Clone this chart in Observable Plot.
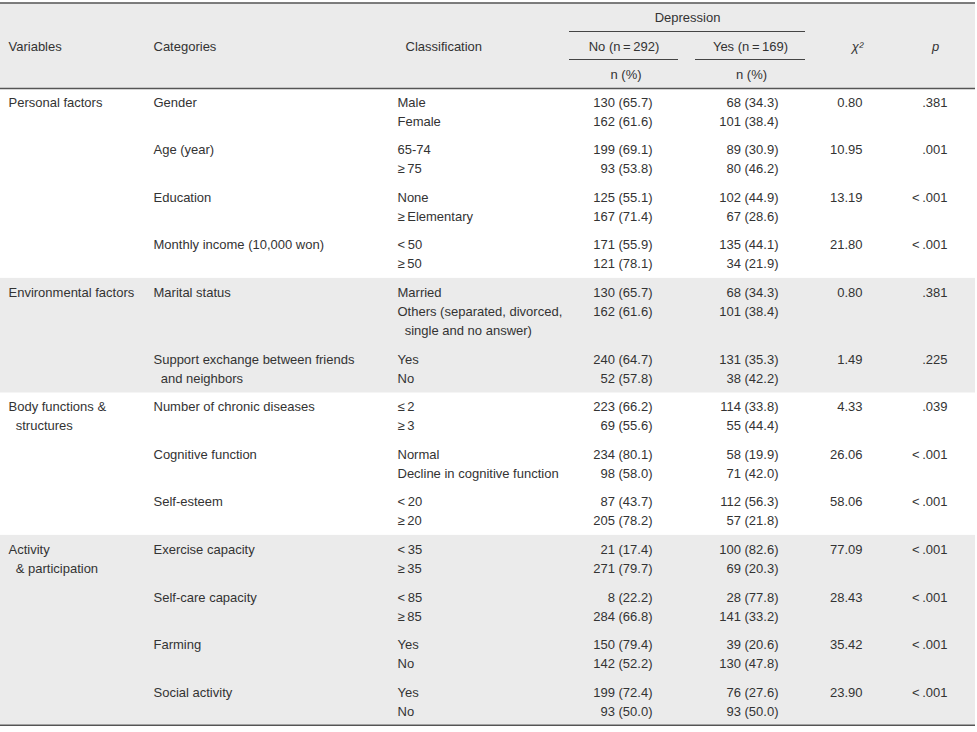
<!DOCTYPE html>
<html>
<head>
<meta charset="utf-8">
<script src="https://cdn.jsdelivr.net/npm/d3@7"></script>
<script src="https://cdn.jsdelivr.net/npm/@observablehq/plot@0.6"></script>
<style>
  html, body { margin: 0; padding: 0; background: #fff; }
  #chart svg { display: block; }
</style>
</head>
<body>
<div id="chart"></div>
<script>
// ---------------- DATA ----------------
const headerLabels = ["Variables", "Categories", "Classification"];
const depressionLabel = "Depression";
const groupLabels = ["No (n\u2009=\u2009292)", "Yes (n\u2009=\u2009169)"];
const unitLabel = "n (%)";
const statLabels = ["\u03c7\u00b2", "p"];

const variables = [
  ["Personal factors"],
  ["Environmental factors"],
  ["Body functions &", "\u00a0\u00a0structures"],
  ["Activity", "\u00a0\u00a0& participation"]
];

const categories = [
  ["Gender"],
  ["Age (year)"],
  ["Education"],
  ["Monthly income (10,000 won)"],
  ["Marital status"],
  ["Support exchange between friends", "\u00a0\u00a0and neighbors"],
  ["Number of chronic diseases"],
  ["Cognitive function"],
  ["Self-esteem"],
  ["Exercise capacity"],
  ["Self-care capacity"],
  ["Farming"],
  ["Social activity"]
];
const categoryVariable = [0, 0, 0, 0, 1, 1, 2, 2, 2, 3, 3, 3, 3];

const classifications = [
  ["Male", "Female"],
  ["65-74", "\u2265\u200975"],
  ["None", "\u2265\u2009Elementary"],
  ["<\u200950", "\u2265\u200950"],
  ["Married", "Others (separated, divorced,", "\u00a0\u00a0single and no answer)"],
  ["Yes", "No"],
  ["\u2264\u20092", "\u2265\u20093"],
  ["Normal", "Decline in cognitive function"],
  ["<\u200920", "\u2265\u200920"],
  ["<\u200935", "\u2265\u200935"],
  ["<\u200985", "\u2265\u200985"],
  ["Yes", "No"],
  ["Yes", "No"]
];

const noN   = [[130,162],[199,93],[125,167],[171,121],[130,162],[240,52],[223,69],[234,98],[87,205],[21,271],[8,284],[150,142],[199,93]];
const noPct = [[65.7,61.6],[69.1,53.8],[55.1,71.4],[55.9,78.1],[65.7,61.6],[64.7,57.8],[66.2,55.6],[80.1,58.0],[43.7,78.2],[17.4,79.7],[22.2,66.8],[79.4,52.2],[72.4,50.0]];
const yesN   = [[68,101],[89,80],[102,67],[135,34],[68,101],[131,38],[114,55],[58,71],[112,57],[100,69],[28,141],[39,130],[76,93]];
const yesPct = [[34.3,38.4],[30.9,46.2],[44.9,28.6],[44.1,21.9],[34.3,38.4],[35.3,42.2],[33.8,44.4],[19.9,42.0],[56.3,21.8],[82.6,20.3],[77.8,33.2],[20.6,47.8],[27.6,50.0]];
const chi2 = [0.80, 10.95, 13.19, 21.80, 0.80, 1.49, 4.33, 26.06, 58.06, 77.09, 28.43, 35.42, 23.90];
const pValues = [".381", ".001", "<\u2009.001", "<\u2009.001", ".381", ".225", ".039", "<\u2009.001", "<\u2009.001", "<\u2009.001", "<\u2009.001", "<\u2009.001", "<\u2009.001"];

// ---------------- LAYOUT ----------------
const W = 977, H = 732;
const TABLE_RIGHT = 975;
const TOP_Y = 2.5, HEAD_BOTTOM = 88, FIRST_LINE = 102;
const LINE_H = 19.0, GROUP_GAP = 28.6;
const COL = {variable: 8, category: 153, classification: 397, noRight: 652, yesRight: 778, chiRight: 862, pRight: 947};
const SUB = {noL: 569, noR: 678, yesL: 695, yesR: 805};

// compute y for each group
const groupY = [];
let y = FIRST_LINE;
categories.forEach((c, i) => {
  groupY.push(y);
  const n = Math.max(c.length, classifications[i].length, noN[i].length);
  y += (n - 1) * LINE_H + GROUP_GAP;
});
const groupLast = categories.map((c, i) =>
  groupY[i] + (Math.max(c.length, classifications[i].length, noN[i].length) - 1) * LINE_H);

const leftCells = [];
const rightCells = [];
const fmtPct = d3.format(".1f");
const fmtChi = d3.format(".2f");

categories.forEach((cat, i) => {
  const y0 = groupY[i];
  // variable label (first category of variable)
  if (i === 0 || categoryVariable[i - 1] !== categoryVariable[i]) {
    variables[categoryVariable[i]].forEach((t, k) => leftCells.push({x: COL.variable, y: y0 + k * LINE_H, t}));
  }
  cat.forEach((t, k) => leftCells.push({x: COL.category, y: y0 + k * LINE_H, t}));
  classifications[i].forEach((t, k) => leftCells.push({x: COL.classification, y: y0 + k * LINE_H, t}));
  noN[i].forEach((n, k) => rightCells.push({x: COL.noRight, y: y0 + k * LINE_H, t: `${n} (${fmtPct(noPct[i][k])})`}));
  yesN[i].forEach((n, k) => rightCells.push({x: COL.yesRight, y: y0 + k * LINE_H, t: `${n} (${fmtPct(yesPct[i][k])})`}));
  rightCells.push({x: COL.chiRight, y: y0, t: fmtChi(chi2[i])});
  rightCells.push({x: COL.pRight, y: y0, t: pValues[i]});
});

// bands: header + shaded variables (1 and 3)
const bands = [{y1: TOP_Y, y2: HEAD_BOTTOM}];
[1, 3].forEach(v => {
  const idx = categoryVariable.map((cv, i) => cv === v ? i : -1).filter(i => i >= 0);
  const first = idx[0], last = idx[idx.length - 1];
  const bottom = last === categories.length - 1 ? groupLast[last] + 13.5 : groupLast[last] + 14.5;
  bands.push({y1: groupY[first] - 14.5, y2: bottom});
});
const BOTTOM_Y = groupLast[categories.length - 1] + 13.5;

const thickRules = [{y: TOP_Y, x1: 0, x2: TABLE_RIGHT}, {y: BOTTOM_Y, x1: 0, x2: TABLE_RIGHT}];
const midRules = [{y: HEAD_BOTTOM, x1: 0, x2: TABLE_RIGHT}];
const thinRules = [
  {y: 31, x1: SUB.noL, x2: SUB.yesR},
  {y: 59, x1: SUB.noL, x2: SUB.noR},
  {y: 59, x1: SUB.yesL, x2: SUB.yesR}
];

const headLeft = [
  {x: COL.variable, y: 46, t: headerLabels[0]},
  {x: COL.category, y: 46, t: headerLabels[1]},
  {x: 405, y: 46, t: headerLabels[2]}
];
const headCenter = [
  {x: (SUB.noL + SUB.yesR) / 2, y: 17, t: depressionLabel},
  {x: (SUB.noL + SUB.noR) / 2, y: 46, t: groupLabels[0]},
  {x: (SUB.yesL + SUB.yesR) / 2, y: 46, t: groupLabels[1]},
  {x: (SUB.noL + SUB.noR) / 2 + 2, y: 74, t: unitLabel},
  {x: (SUB.yesL + SUB.yesR) / 2 + 1, y: 74, t: unitLabel}
];
const headItalic = [
  {x: 857, y: 46, t: statLabels[0]},
  {x: 935, y: 46, t: statLabels[1]}
];

const FONT = "'Liberation Sans', Arial, Helvetica, sans-serif";
const TXT = "#333";
const textOpts = {x: "x", y: "y", text: "t", fill: TXT, fontSize: 13, lineAnchor: "middle", fontFamily: FONT};

const chart = Plot.plot({
  width: W,
  height: H,
  margin: 0,
  x: {domain: [0, W], range: [0, W], axis: null},
  y: {domain: [0, H], range: [0, H], axis: null},
  style: {background: "#fff", fontFamily: FONT},
  marks: [
    Plot.rect(bands, {x1: 0, x2: TABLE_RIGHT, y1: "y1", y2: "y2", fill: "#ebebeb"}),
    Plot.ruleY(thickRules, {y: "y", x1: "x1", x2: "x2", stroke: "#555", strokeWidth: 1.6}),
    Plot.ruleY(midRules, {y: "y", x1: "x1", x2: "x2", stroke: "#555", strokeWidth: 1.3}),
    Plot.ruleY(thinRules, {y: "y", x1: "x1", x2: "x2", stroke: "#444", strokeWidth: 1}),
    Plot.text(headLeft, {...textOpts, textAnchor: "start"}),
    Plot.text(headCenter, {...textOpts, textAnchor: "middle"}),
    Plot.text(headItalic, {...textOpts, textAnchor: "middle", fontStyle: "italic"}),
    Plot.text(leftCells, {...textOpts, textAnchor: "start"}),
    Plot.text(rightCells, {...textOpts, textAnchor: "end"})
  ]
});
document.getElementById("chart").appendChild(chart);
</script>
</body>
</html>
